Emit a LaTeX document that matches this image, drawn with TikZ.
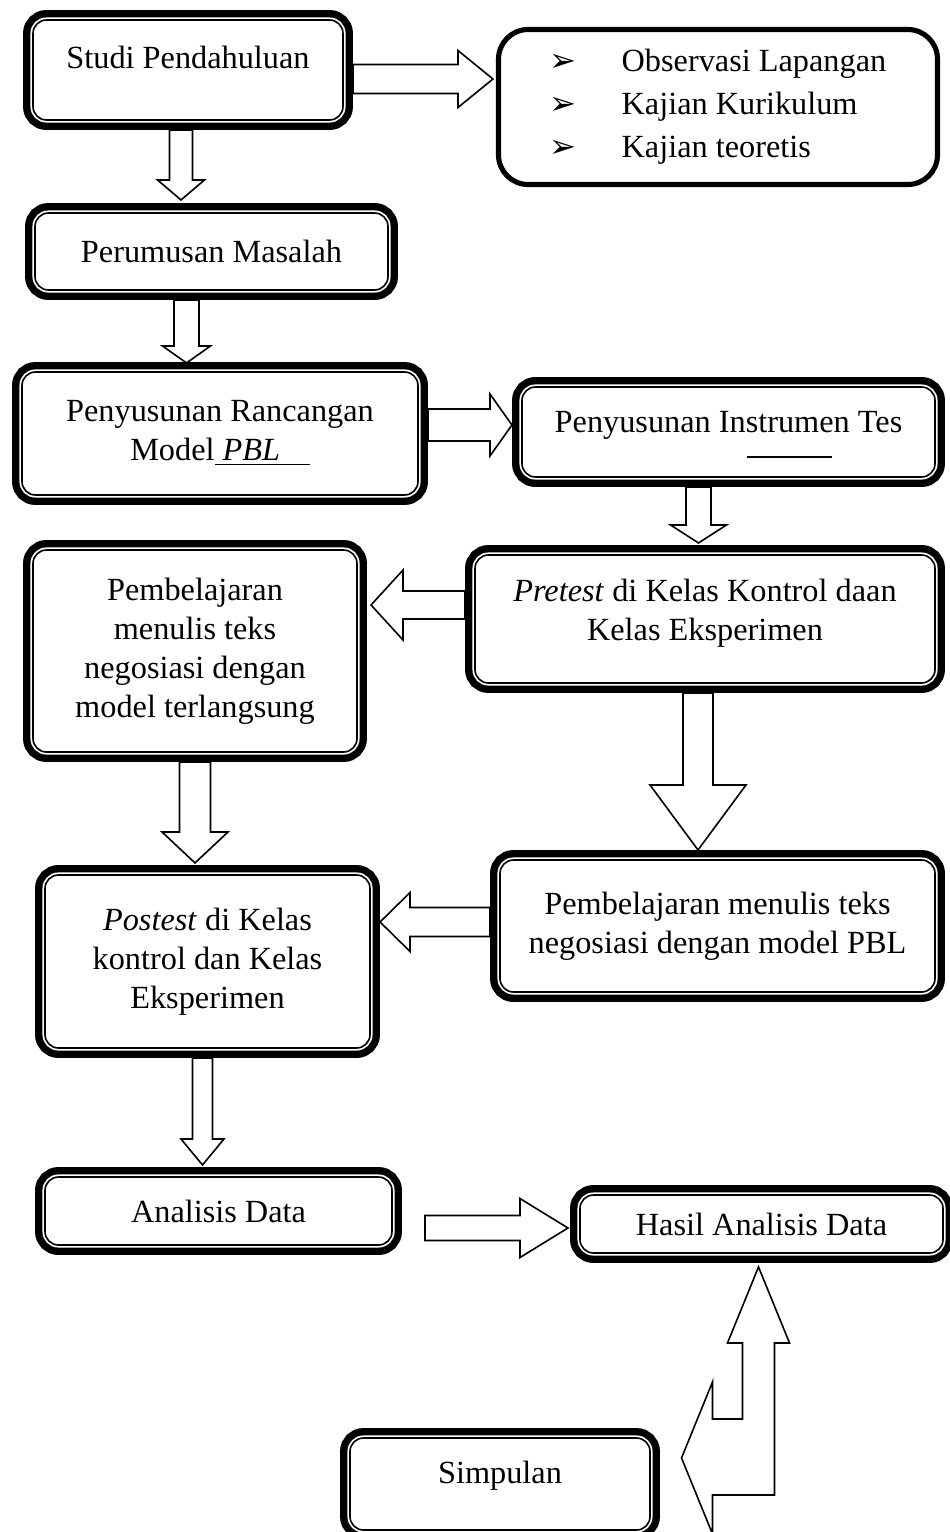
\documentclass[tikz,border=0pt]{standalone}
\usepackage{fontspec}
\setmainfont{Liberation Serif}
\newfontfamily\symfont{DejaVu Sans}
\usetikzlibrary{calc}
\tikzset{box/.style 2 args={rectangle, draw, fill=white, line width=0.6pt, rounded corners=5pt, minimum width=#1*0.3715pt, minimum height=#2*0.3715pt, inner sep=0pt, outer sep=3.7pt, align=center, preaction={draw, line width=7.4pt}, preaction={draw=white, line width=1.9pt}}}
\tikzset{listbox/.style 2 args={rectangle, draw, line width=1.9pt, rounded corners=11pt, minimum width=#1*0.3715pt, minimum height=#2*0.3715pt, inner sep=0pt, outer sep=1pt, align=left}}
\tikzset{barrow/.style={draw, fill=white, line width=0.6pt, line join=miter}}
\newcommand{\blockarrow}[6]{\draw[barrow, shift={#1}, rotate=#2] (0,-#4) -- ({#3-#6},-#4) -- ({#3-#6},-#5) -- (#3,0) -- ({#3-#6},#5) -- ({#3-#6},#4) -- (0,#4) -- cycle;}
\newcommand{\bul}{\makebox[26.7pt][l]{\symfont\fontsize{12}{12}\selectfont ➢}}
\newcommand{\textlift}[2]{\raisebox{#1}[\height][\depth]{#2}}

\begin{document}
\begin{tikzpicture}
[x=0.3715pt, y=-0.3715pt, font=\fontsize{12}{14.5}\selectfont]
%flow of the research steps, from the first study down to the conclusion
\useasboundingbox (0,0) rectangle (950,1532);
\node (studi) at (188,70)[box={310}{100}]{\textlift{4.8pt}{Studi Pendahuluan}};
\node (kajian) at (718,107)[listbox={439}{155}]{\bul Observasi Lapangan\\[1.5pt]\bul Kajian Kurikulum\\[1.5pt]\bul Kajian teoretis};
\node (rumusan) at (211.5,251.5)[box={353}{77}]{Perumusan Masalah};
\node (rancangan) at (220,433.5)[box={396}{123}]{Penyusunan Rancangan\\Model\underline{\ \textit{PBL}\hspace{11pt}}};
\node (instrumen) at (728.5,432)[box={413}{90}]{\textlift{2.6pt}{Penyusunan Instrumen Tes}};
\node (pretest) at (705,619)[box={460}{128}]{\textlift{2.2pt}{\textit{Pretest} di Kelas Kontrol daan}\\\textlift{2.2pt}{Kelas Eksperimen}};
\node (langsung) at (195,651)[box={324}{202}]{Pembelajaran\\menulis teks\\negosiasi dengan\\model terlangsung};
\node (pbl) at (717.5,926)[box={435}{132}]{Pembelajaran menulis teks\\negosiasi dengan model PBL};
\node (postest) at (207.5,961.5)[box={325}{173}]{\textit{Postest} di Kelas\\kontrol dan Kelas\\Eksperimen};
\node (analisis) at (218.5,1211)[box={347}{68}]{Analisis Data};
\node (hasil) at (761.5,1224)[box={363}{58}]{Hasil Analisis Data};
\node (simpulan) at (500,1484)[box={300}{92}]{\textlift{3pt}{Simpulan}};
\draw[line width=0.6pt] ($(instrumen.center)+(18,25)$) -- ++(85,0);
% block arrows: start, angle, length, half shaft, half head, head length
\blockarrow{($(studi.east)+(0,9)$)}{0}{140}{14.5}{28.5}{35}
\blockarrow{($(studi.south)+(-7,0)$)}{-90}{70}{11.5}{23.5}{20}
\blockarrow{($(rumusan.south)+(-25,0)$)}{-90}{63}{12.5}{24}{17}
\blockarrow{($(rancangan.east)+(0,-8.5)$)}{0}{84}{16}{31}{22}
\blockarrow{($(instrumen.south)+(-30,0)$)}{-90}{56}{12.5}{28}{18}
\blockarrow{($(pretest.west)+(0,-14)$)}{180}{94}{14}{35}{32}
\blockarrow{($(pretest.south)+(-7,0)$)}{-90}{157}{15}{48}{65}
\blockarrow{(langsung.south)}{-90}{101}{15.5}{33}{31}
\blockarrow{($(pbl.west)+(0,-4)$)}{180}{110}{14.5}{29.5}{30}
\blockarrow{($(postest.south)+(-5,0)$)}{-90}{107}{10}{21.5}{26}
\blockarrow{($(analisis.east)+(23,17)$)}{0}{143}{12.5}{29.5}{48}
\draw[barrow, shift={($(hasil.south)+(-3,4)$)}] (0,0) -- (31,76) -- (16,76) -- (16,228) -- (-46,228) -- (-46,267) -- (-77,191) -- (-46,115) -- (-46,152) -- (-16,152) -- (-16,76) -- (-31,76) -- cycle;
\end{tikzpicture}
\end{document}
